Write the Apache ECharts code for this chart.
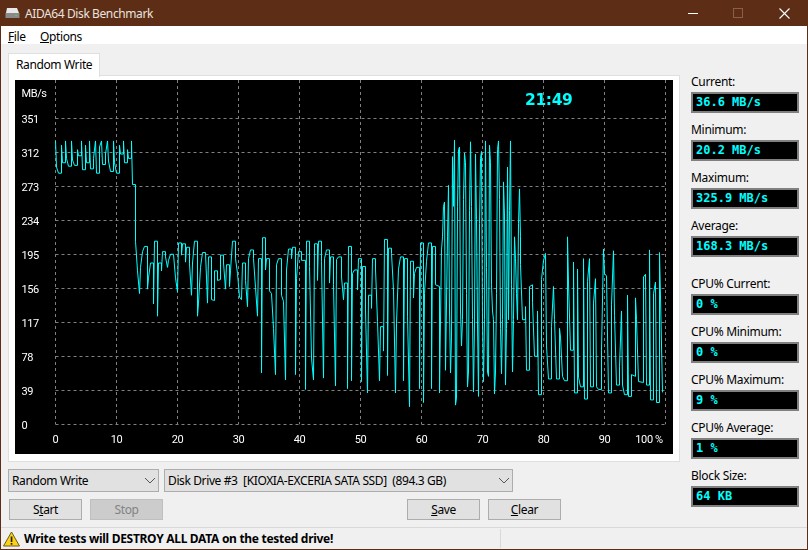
<!DOCTYPE html>
<html><head><meta charset="utf-8">
<script src="https://cdn.jsdelivr.net/npm/echarts@6/dist/echarts.min.js"></script>
<style>
html,body{margin:0;padding:0;background:#f0f0f0;width:808px;height:550px;overflow:hidden;font-family:"Noto Sans",sans-serif;font-size:12px;color:#000;letter-spacing:-0.38px}
.a{position:absolute;white-space:nowrap;line-height:16px}
.lab{letter-spacing:-0.3px}
.box{position:absolute;left:691px;height:17px;border:2px solid #808080;background:#000;color:#00ffff;font:bold 12px/17px "DejaVu Sans Mono",monospace;letter-spacing:0;padding-left:3px;box-sizing:content-box;width:101px}
.btn{position:absolute;height:19px;width:71px;border:1px solid #adadad;background:#e1e1e1;text-align:center;line-height:20px}
.combo{position:absolute;height:21px;border:1px solid #adadad;background:#e1e1e1;line-height:22px;padding-left:3px;box-sizing:content-box}
u{text-decoration:underline}
</style></head><body>
<div class="a" style="left:0;top:0;width:808px;height:26px;background:#5e2d16"></div>
<div class="a" style="left:0;top:0;width:1px;height:550px;background:#5e2d16"></div>
<div class="a" style="left:807px;top:0;width:1px;height:550px;background:#5e2d16"></div>
<div class="a" style="left:0;top:549px;width:808px;height:1px;background:#5e2d16"></div>
<svg class="a" style="left:5px;top:7px" width="15" height="12"><path d="M2 1h10l2 5H1z" fill="#e8e8e8"/><rect x="0.5" y="6" width="14" height="5" fill="#8a8a8a"/><rect x="10" y="8" width="2" height="1" fill="#4fd04f"/></svg>
<div class="a" style="left:25px;top:6px;color:#e9e3df;font-size:12px;letter-spacing:-0.4px">AIDA64 Disk Benchmark</div>
<svg class="a" style="left:680px;top:6px" width="115" height="15"><path d="M8 7.5h10" stroke="#fff" stroke-width="1"/><rect x="53.5" y="2.5" width="9" height="9" fill="none" stroke="#85604e"/><path d="M99.5 2.5l10 10M109.5 2.5l-10 10" stroke="#fff" stroke-width="1.1"/></svg>
<div class="a" style="left:1px;top:26px;width:806px;height:18px;background:#fff"></div>
<div class="a" style="left:8px;top:29px"><u>F</u>ile</div>
<div class="a" style="left:40px;top:29px"><u>O</u>ptions</div>

<div class="a" style="left:8px;top:75px;width:670px;height:385px;background:#fff;border:1px solid #dfdfdf"></div>
<div class="a" style="left:8px;top:53px;width:90px;height:23px;background:#fff;border:1px solid #dfdfdf;border-bottom:none"></div>
<div class="a" style="left:16px;top:57px">Random Write</div>
<div id="chart" style="position:absolute;left:15px;top:80px;width:658px;height:374px;background:#000"></div>

<div class="a lab" style="left:691px;top:74px">Current:</div><div class="box" style="top:92px">36.6 MB/s</div>
<div class="a lab" style="left:691px;top:122px">Minimum:</div><div class="box" style="top:140px">20.2 MB/s</div>
<div class="a lab" style="left:691px;top:170px">Maximum:</div><div class="box" style="top:188px">325.9 MB/s</div>
<div class="a lab" style="left:691px;top:218px">Average:</div><div class="box" style="top:236px">168.3 MB/s</div>
<div class="a lab" style="left:691px;top:276px">CPU% Current:</div><div class="box" style="top:294px">0 %</div>
<div class="a lab" style="left:691px;top:324px">CPU% Minimum:</div><div class="box" style="top:342px">0 %</div>
<div class="a lab" style="left:691px;top:372px">CPU% Maximum:</div><div class="box" style="top:390px">9 %</div>
<div class="a lab" style="left:691px;top:420px">CPU% Average:</div><div class="box" style="top:438px">1 %</div>
<div class="a lab" style="left:691px;top:468px">Block Size:</div><div class="box" style="top:486px">64 KB</div>

<div class="combo" style="left:8px;top:469px;width:146px">Random Write</div>
<svg class="a" style="left:144px;top:477px" width="12" height="8"><path d="M1 1l5 5 5-5" fill="none" stroke="#555" stroke-width="1"/></svg>
<div class="combo" style="left:164px;top:469px;width:344px">Disk Drive #3&nbsp; [KIOXIA-EXCERIA SATA SSD]&nbsp; (894.3 GB)</div>
<svg class="a" style="left:498px;top:477px" width="12" height="8"><path d="M1 1l5 5 5-5" fill="none" stroke="#555" stroke-width="1"/></svg>
<div class="btn" style="left:9px;top:499px">S<u>t</u>art</div>
<div class="btn" style="left:90px;top:499px;background:#ccc;border-color:#bfbfbf;color:#838383">Stop</div>
<div class="btn" style="left:407px;top:499px"><u>S</u>ave</div>
<div class="btn" style="left:488px;top:499px"><u>C</u>lear</div>

<div class="a" style="left:1px;top:527px;width:806px;height:1px;background:#d9d9d9"></div>
<div class="a" style="left:500px;top:529px;width:1px;height:19px;background:#d9d9d9"></div>
<svg class="a" style="left:3px;top:531px" width="17" height="16"><path d="M8.5 1L16.5 15H.5z" fill="#fcd116" stroke="#6a5a20"/><rect x="7.7" y="5.5" width="1.7" height="5.5" fill="#222"/><rect x="7.7" y="12" width="1.7" height="1.7" fill="#222"/></svg>
<div class="a" style="left:24px;top:531px;font-weight:bold;font-size:12px;letter-spacing:-0.3px">Write tests will DESTROY ALL DATA on the tested drive!</div>

<script>
const testName = "Random Write";
const clockLabel = "21:49";
const unitLabel = "MB/s";
const yTicks = [0,39,78,117,156,195,234,273,312,351];
const xTicks = [0,10,20,30,40,50,60,70,80,90,100];
const speedPlateau = [325,295,288,320,300,325,305,296,325,303,297,315,308,325,292,320,300,325,293,305,325,288,318,325,298,310,325,302,290,325,300,288,320,310,325,300,315,305,325,275];
const speedSteady = [210,176,150,180,198,204,155,168,185,138,210,124,185,176,198,192,180,188,195,193,168,152,208,194,207,186,203,184,148,185,210,124,139,180,197,197,139,192,143,142,176,165,166,194,185,155,183,158,176,210,190,173,146,143,185,165,135,190,
200,190,157,124,190,59,214,177,190,153,150,110,57,183,190,148,141,51,177,201,190,203,57,167,198,188,188,40,210,181,76,51,207,165,210,187,53,190,200,162,192,160,44,189,192,169,143,162,41,204,50,173,177,154,190,49,181,130,36,148,133,190,178,118,50,112,84,212,56,202,196,154,36,116,178,192,50,190,124,20.2,187,145,173,180,41,208,25,150,187,208,41,204,160,158,36];
const speedBurst = [200,215,250,255,62,60,215,274,130,59,100,307,250,325.9,22,30,250,315,318,130,90,120,258,311,300,150,43,60,245,324,250,120,37,115,310,235,115,32,230,305,313,115,49,120,325,180,60,55,320,300,160,130,120,35,60,150,315,325,258,110,58,120,278,240,45,110,295,120,245,325,160,60,120,215,190,150,120,230,270,215];
const speedTail = [183,120,135,62,158,160,140,78,130,34,166,188,196,90,52,112,158,120,52,110,100,55,50,215,162,85,186,36,178,54,43,190,29,164,190,43,139,167,43,40,85,201,173,170,36,137,199,125,45,66,130,45,34,148,32,57,55,145,120,49,48,169,172,45,200,28,150,163,25,197,146,36.6];

// The screen is 610 samples wide; the sections were read at these sample spacings.
const pctPerSample = 100 / 610;
const sections = [
  {values:speedPlateau, spacing:2, narrow:'high'},
  {values:speedSteady, spacing:2, narrow:'low'},
  {values:speedBurst, spacing:1, narrow:null},
  {values:speedTail, spacing:2, narrow:'high'}
];
const seriesData = [];
let cursor = 0, previous = null;
sections.forEach(s => s.values.forEach(v => {
  let t = cursor;
  if (previous !== null && ((s.narrow === 'high' && v < previous) || (s.narrow === 'low' && v > previous))) t -= 1;
  seriesData.push([t * pctPerSample, v]);
  previous = v; cursor += s.spacing;
}));

const chart = echarts.init(document.getElementById('chart'), null, {renderer:'canvas'});
const dash = {color:'#808080', width:1, type:[3,3]};
const labelFont = 'Roboto';
const labelSize = 11;
chart.setOption({
  animation:false,
  backgroundColor:'#000',
  title:{text:clockLabel, left:505, top:8, textStyle:{color:'#00ffff', fontSize:15.5, fontWeight:'bold', fontFamily:'DejaVu Sans'}},
  grid:{left:40.5, top:0, width:610, height:344.3},
  xAxis:{type:'value', min:0, max:100,
    axisLine:{show:false},
    axisTick:{show:false, customValues:xTicks},
    axisLabel:{customValues:xTicks, color:'#fff', fontFamily:labelFont, fontSize:labelSize, margin:10,
      formatter:v => v===100 ? '{r|100 %}' : String(v),
      rich:{r:{padding:[0,33,0,0], color:'#fff', fontFamily:labelFont, fontSize:labelSize}}},
    splitLine:{show:true, lineStyle:dash}},
  yAxis:{type:'value', min:0, max:394.9,
    name:unitLabel, nameLocation:'end', nameGap:-20,
    nameTextStyle:{color:'#fff', fontFamily:labelFont, fontSize:labelSize, align:'left', padding:[0,0,0,-34]},
    axisLine:{show:false},
    axisTick:{show:false, customValues:yTicks},
    axisLabel:{customValues:yTicks, align:'left', margin:34,
      formatter:v => '{a|' + v + '}',
      rich:{a:{padding:[4,0,0,0], color:'#fff', fontFamily:labelFont, fontSize:labelSize}}},
    splitLine:{show:true, lineStyle:dash}},
  series:[{name:testName, type:'line', data:seriesData, step:'end', showSymbol:false, symbol:'none',
    lineStyle:{color:'#00ffff', width:1}, clip:true}]
});
</script>
</body></html>
